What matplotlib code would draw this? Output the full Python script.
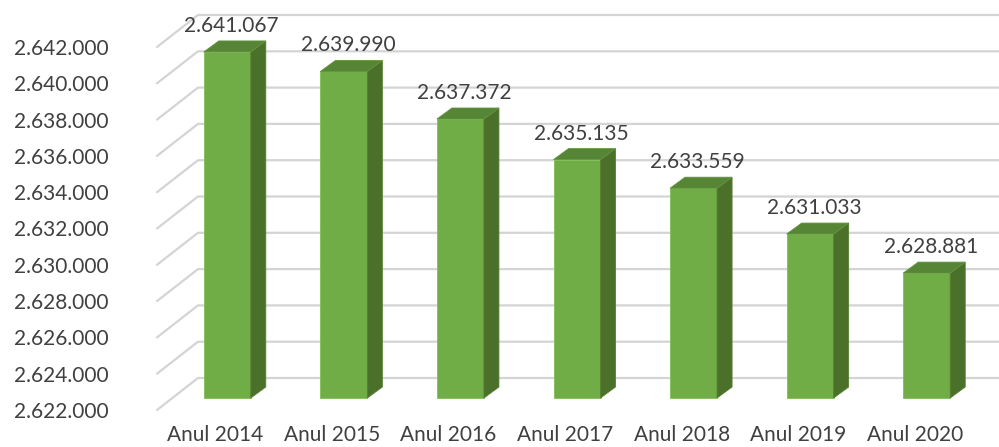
import matplotlib.pyplot as plt
from matplotlib.patches import Polygon

# date
ani = ['Anul 2014', 'Anul 2015', 'Anul 2016', 'Anul 2017', 'Anul 2018', 'Anul 2019', 'Anul 2020']
valori = [2641067, 2639990, 2637372, 2635135, 2633559, 2631033, 2628881]
ticks_y = list(range(2622000, 2644000, 2000))


def fmt(v):
    # separator de mii cu punct
    return f'{v:,}'.replace(',', '.')


plt.rcParams['font.family'] = ['Lato', 'DejaVu Sans']

fig = plt.figure(figsize=(9.99, 4.47), dpi=100)
ax = fig.add_axes([157 / 999, 37 / 447, 816 / 999, 363 / 447])
ax.set_xlim(-0.5, len(ani) - 0.5)
ymin, ymax = ticks_y[0], ticks_y[-1]
ax.set_ylim(ymin, ymax)

# conversie pixeli -> unitati de date (pentru efectul 3D)
px_x = 816 / (len(ani))          # pixeli pe categorie
px_y = 363 / (ymax - ymin)        # pixeli pe unitate


def dx(p):
    return p / px_x


def dy(p):
    return p / px_y


grila = '#d4d4d4'
# peretele din spate + peretele lateral
for v in ticks_y:
    ax.plot([-0.5, -0.5 + dx(41), len(ani) - 0.5 + dx(41)],
            [v, v + dy(32), v + dy(32)],
            color=grila, lw=1.6, zorder=1, clip_on=False, solid_capstyle='round')

# bare 3D
w = 47 / px_x
ox, oy = dx(12), dy(12)       # fata barei fata de planul etichetelor
ax_, ay_ = dx(15), dy(11)     # adancimea barei
xs = [i + ox for i in range(len(ani))]
ax.bar(xs, [v - ymin for v in valori], bottom=ymin + oy, width=w,
       color='#70ad47', edgecolor='#7fbf55', linewidth=0.6, zorder=3, clip_on=False)
for x, v in zip(xs, valori):
    xl, xr = x - w / 2, x + w / 2
    b, t = ymin + oy, v + oy
    ax.add_patch(Polygon([(xr, b), (xr + ax_, b + ay_), (xr + ax_, t + ay_), (xr, t)],
                         closed=True, facecolor='#4a7029', edgecolor='#567f31',
                         lw=0.6, zorder=3, clip_on=False))
    ax.add_patch(Polygon([(xl, t), (xr, t), (xr + ax_, t + ay_), (xl + ax_, t + ay_)],
                         closed=True, facecolor='#568536', edgecolor='#629440',
                         lw=0.6, zorder=3, clip_on=False))
    ax.text(x + dx(4), t + ay_ + dy(5), fmt(v), ha='center', va='bottom',
            fontsize=15, color='#404040', zorder=4)

ax.set_yticks(ticks_y)
ax.set_yticklabels([fmt(v) for v in ticks_y])
ax.set_xticks(range(len(ani)))
ax.set_xticklabels(ani)
ax.tick_params(axis='y', length=0, pad=35, labelsize=15, labelcolor='#404040')
ax.tick_params(axis='x', length=0, pad=11, labelsize=15, labelcolor='#404040')
for s in ax.spines.values():
    s.set_visible(False)
ax.patch.set_visible(False)

plt.savefig('out.png', dpi=100)
